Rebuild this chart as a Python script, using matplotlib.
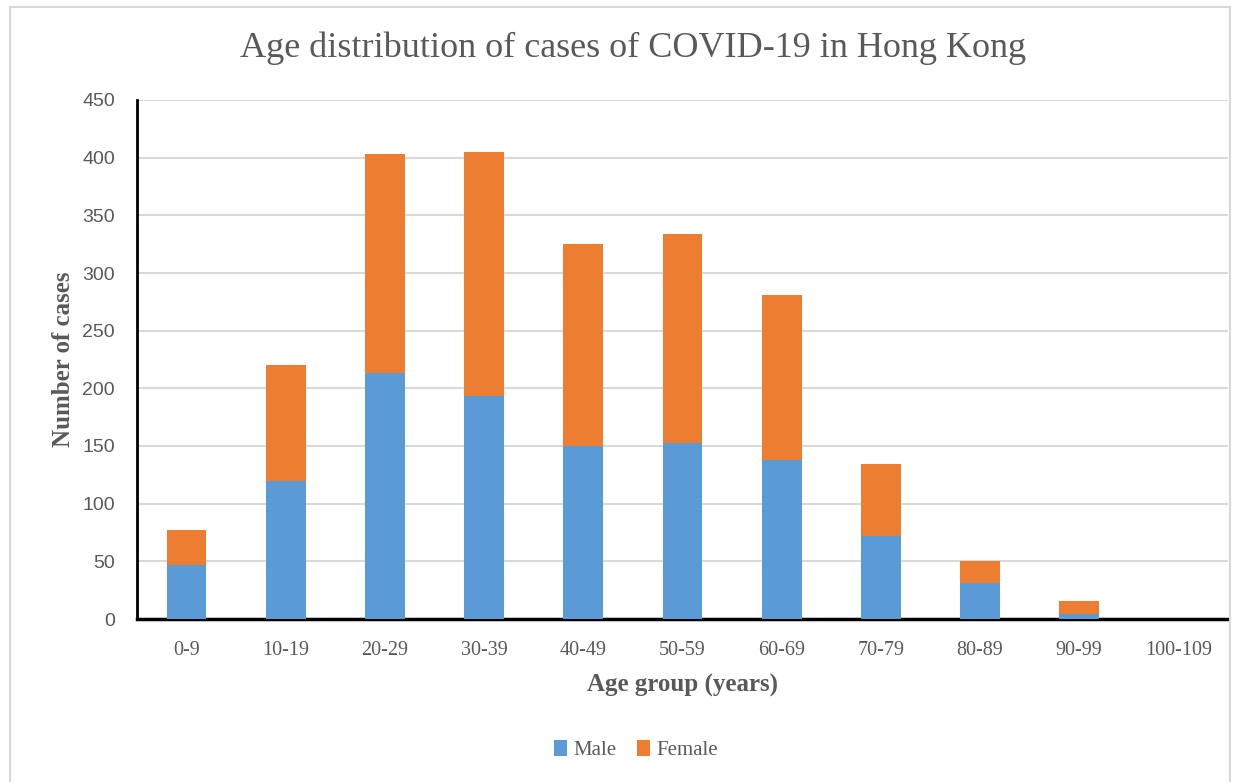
import matplotlib.pyplot as plt
import numpy as np
from matplotlib.patches import Rectangle

# du lieu doc tu bieu do
age_groups = ["0-9", "10-19", "20-29", "30-39", "40-49", "50-59",
              "60-69", "70-79", "80-89", "90-99", "100-109"]
male = [47, 120, 213, 193, 150, 153, 138, 72, 31, 4, 0]
female = [30, 100, 190, 212, 175, 181, 143, 62, 19, 12, 0]

blue = "#5b9bd5"
orange = "#ed7d31"
grey = "#595959"
serif = ["Liberation Serif", "DejaVu Serif"]

fig = plt.figure(figsize=(12.38, 7.82), dpi=100)
# khung vien nhat quanh bieu do
fig.patches.append(Rectangle((10 / 1238, -0.01), 1220 / 1238, 1 - 7 / 782 + 0.01,
                             transform=fig.transFigure, fill=False,
                             edgecolor="#d9d9d9", linewidth=1.5))

ax = fig.add_axes([137 / 1238, 1 - 619 / 782, (1228 - 137) / 1238, (619 - 100) / 782])
x = np.arange(len(age_groups))
ax.bar(x, male, width=0.4, color=blue, label="Male", zorder=3)
ax.bar(x, female, width=0.4, bottom=male, color=orange, label="Female", zorder=3)

ax.set_xlim(-0.5, len(age_groups) - 0.5)
ax.set_ylim(0, 450)
ax.set_yticks(range(0, 451, 50))
ax.yaxis.grid(True, color="#d9d9d9", linewidth=1.5, zorder=0)
ax.set_axisbelow(True)

for s in ["top", "right"]:
    ax.spines[s].set_visible(False)
ax.spines["left"].set_linewidth(2)
ax.spines["bottom"].set_linewidth(2.5)
ax.tick_params(length=0)
ax.tick_params(axis="y", labelsize=14, labelcolor=grey, pad=16)
ax.set_xticks(x)
ax.set_xticklabels(age_groups, family=serif, fontsize=14.5, color=grey)
ax.tick_params(axis="x", pad=16)
for lbl in ax.get_yticklabels():
    lbl.set_family(["Liberation Sans", "DejaVu Sans"])

ax.set_xlabel("Age group (years)", family=serif, fontsize=18, fontweight="bold",
              color=grey, labelpad=10)
ax.set_ylabel("Number of cases", family=serif, fontsize=18, fontweight="bold",
              color=grey, labelpad=5)

fig.text(633 / 1238, 1 - 48 / 782, "Age distribution of cases of COVID-19 in Hong Kong",
         ha="center", va="center", family=serif, fontsize=26, color=grey)

leg = fig.legend(loc="center", bbox_to_anchor=(636 / 1238, 1 - 750 / 782), ncol=2,
                 frameon=False, prop={"family": serif, "size": 15},
                 handlelength=0.6, handleheight=0.8, handletextpad=0.3, columnspacing=1.0)
for t in leg.get_texts():
    t.set_color(grey)

fig.savefig("out.png", dpi=100)
